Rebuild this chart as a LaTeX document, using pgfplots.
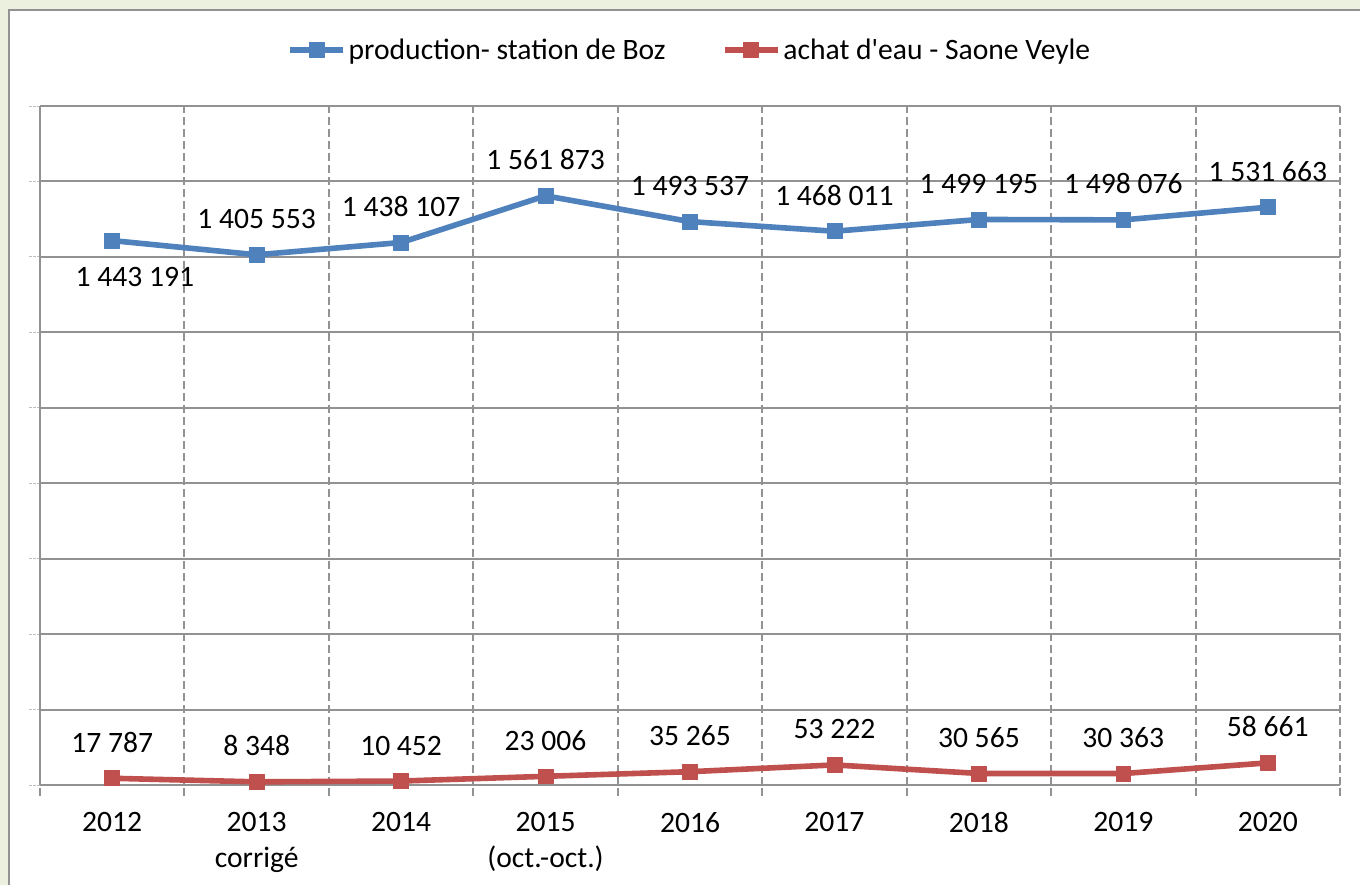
\documentclass[border=0pt]{standalone}
\usepackage{fontspec}
\setmainfont{Carlito}
\usepackage{pgfplots}
\usepackage{pgfplotstable}
\pgfplotsset{compat=1.18}
\definecolor{prodblue}{HTML}{4F81BD}
\definecolor{achatred}{HTML}{C0504D}
\definecolor{gridgray}{HTML}{929292}
\definecolor{bggreen}{HTML}{EBF1DE}

% production - station de Boz
\pgfplotstableread{
x y lab
0 1443191 {1 443 191}
1 1405553 {1 405 553}
2 1438107 {1 438 107}
3 1561873 {1 561 873}
4 1493537 {1 493 537}
5 1468011 {1 468 011}
6 1499195 {1 499 195}
7 1498076 {1 498 076}
8 1531663 {1 531 663}
}\prodtable

% achat d'eau - Saone Veyle
\pgfplotstableread{
x y lab
0 17787 {17 787}
1 8348 {8 348}
2 10452 {10 452}
3 23006 {23 006}
4 35265 {35 265}
5 53222 {53 222}
6 30565 {30 565}
7 30363 {30 363}
8 58661 {58 661}
}\achattable

\begin{document}
\begin{tikzpicture}[font=\fontsize{22.2}{27}\selectfont]
\useasboundingbox (0,0) rectangle (1020pt,663.75pt);
\fill[bggreen] (0,0) rectangle (1020pt,663.75pt);
\draw[fill=white, draw=gridgray, line width=1.2pt] (6.75pt,-10pt) rectangle (1040pt,656.25pt);
\begin{axis}[
  at={(30pt,75pt)}, anchor=south west,
  scale only axis, width=975pt, height=509.25pt,
  xmin=-0.5, xmax=8.5, ymin=0, ymax=1800000,
  axis x line=bottom, axis y line=left,
  axis line style={-, draw=gridgray, line width=1.5pt},
  xtick={-0.5,0.5,...,8.5}, xticklabels={},
  xmajorgrids, x grid style={gridgray, line width=1.5pt, dash pattern=on 6pt off 3pt},
  extra x ticks={0,1,...,8},
  extra x tick labels={2012,2013\\corrigé,2014,2015\\(oct.-oct.),2016,2017,2018,2019,2020},
  extra x tick style={major tick length=0pt, grid=none},
  xticklabel style={align=center, text=black, yshift=-17pt},
  ytick={0,200000,...,1800000}, yticklabels={}, scaled y ticks=false,
  ymajorgrids, y grid style={gridgray, line width=1.5pt},
  tick align=outside, major tick length=8pt,
  xtick style={draw=gridgray, line width=1.5pt, dash pattern=on 6pt off 3pt},
  ytick style={draw=gridgray!60, line width=0.6pt, dash pattern=on 2pt off 1pt},
  legend style={at={(0.5,1)}, anchor=center, yshift=42pt, draw=none, fill=none,
    legend columns=2, /tikz/every even column/.append style={column sep=40pt},
    inner sep=0pt},
  legend cell align=left,
  legend image code/.code={\draw[#1, mark repeat=2, mark phase=2] plot coordinates {(0pt,0pt) (20pt,0pt) (40pt,0pt)};},
  clip=false,
]
\addplot[prodblue, line width=4.2pt, line join=round, mark=square*, mark size=5.6pt,
  mark options={solid, fill=prodblue, draw=prodblue, line width=0.5pt}]
  table[x=x, y=y] {\prodtable};
\addlegendentry{production- station de Boz}
\addplot[achatred, line width=4.2pt, line join=round, mark=square*, mark size=5.6pt,
  mark options={solid, fill=achatred, draw=achatred, line width=0.5pt}]
  table[x=x, y=y] {\achattable};
\addlegendentry{achat d\textquotesingle eau - Saone Veyle}
% data labels
\addplot[draw=none, mark=none, forget plot, point meta=explicit symbolic, nodes near coords,
  every node near coord/.append style={anchor=north, yshift=-20pt, xshift=17pt, inner sep=0pt, text=black}]
  table[x=x, y=y, meta=lab, skip coords between index={1}{9}] {\prodtable};
\addplot[draw=none, mark=none, forget plot, point meta=explicit symbolic, nodes near coords,
  every node near coord/.append style={anchor=base, yshift=19.5pt, inner sep=0pt, text=black}]
  table[x=x, y=y, meta=lab, skip coords between index={0}{1}] {\prodtable};
\addplot[draw=none, mark=none, forget plot, point meta=explicit symbolic, nodes near coords,
  every node near coord/.append style={anchor=base, yshift=19.5pt, inner sep=0pt, text=black}]
  table[x=x, y=y, meta=lab] {\achattable};
\end{axis}
\end{tikzpicture}
\end{document}
